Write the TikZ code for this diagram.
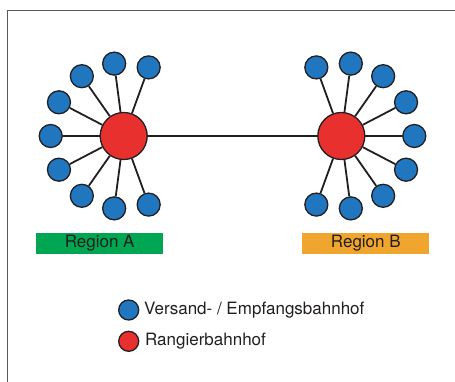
\documentclass[tikz,border=0pt]{standalone}
\usepackage{fontspec}
\setmainfont{TeX Gyre Heros}
\usetikzlibrary{calc}
\definecolor{stationblue}{HTML}{2176C0}
\definecolor{hubred}{HTML}{E8312F}
\definecolor{regiongreen}{HTML}{00A651}
\definecolor{regionorange}{HTML}{F0A52E}
\definecolor{inkgray}{HTML}{231F20}
\tikzset{
	station/.style={circle, draw=inkgray, line width=1.3pt, fill=stationblue, inner sep=0pt, minimum size=23pt},
	hub/.style={circle, draw=inkgray, line width=1.3pt, fill=hubred, inner sep=0pt, minimum size=47pt},
	link/.style={draw=inkgray, line width=1.8pt},
	regionbox/.style={inner sep=0pt, minimum width=127pt, minimum height=21pt, text=inkgray},
	legendtext/.style={anchor=west, inner sep=0pt, text=inkgray}
}
\begin{document}
\begin{tikzpicture}[x=1pt, y=1pt, font=\fontsize{17}{20}\selectfont]
	\useasboundingbox (0,0) rectangle (455,381);
	\draw[gray!70!black, line width=1pt] (7,370) rectangle (470,-10);

	\node[hub] (hubA) at (123.7,245) {};
	\node[hub] (hubB) at (341.3,245) {};

	\foreach \i/\ang in {1/70,2/97.5,3/125,4/152.5,5/180,6/207.5,7/235,8/262.5,9/290}{
		\node[station] (a\i) at ($(hubA)+(\ang:73)$) {};
		\draw[link] (hubA) -- (a\i);
	}
	\foreach \i/\ang in {1/110,2/82.5,3/55,4/27.5,5/0,6/-27.5,7/-55,8/-82.5,9/-110}{
		\node[station] (b\i) at ($(hubB)+(\ang:73)$) {};
		\draw[link] (hubB) -- (b\i);
	}
	\draw[link] (hubA) -- (hubB);

	\node[regionbox, fill=regiongreen] (regA) at (99.7,137.5) {Region A};
	\node[regionbox, fill=regionorange] (regB) at (365.8,137.5) {Region B};

	% legend
	\node[station, minimum size=20pt] (legStation) at (128.7,71) {};
	\node[hub, minimum size=20pt] (legHub) at (128.7,39.7) {};
	\node[legendtext] at (144,71) {Versand- / Empfangsbahnhof};
	\node[legendtext] at (145,39.7) {Rangierbahnhof};
\end{tikzpicture}
\end{document}
